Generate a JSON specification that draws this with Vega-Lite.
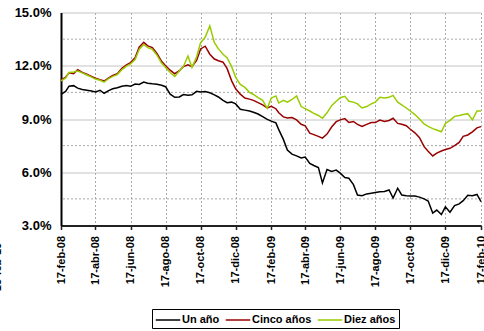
{
  "$schema": "https://vega.github.io/schema/vega-lite/v6.json",
  "width": 420,
  "height": 213,
  "autosize": {"type": "none"},
  "padding": {"left": 61, "top": 12.5, "right": 3, "bottom": 105.5},
  "background": "white",
  "config": {
    "font": "Liberation Sans",
    "view": {"stroke": null},
    "axisY": {
      "labelFont": "Liberation Sans", "labelFontWeight": "bold", "labelFontSize": 13, "labelColor": "black",
      "labelPadding": 10, "ticks": false,
      "grid": true, "gridColor": "#c4c4c4", "gridWidth": 1,
      "domainColor": "black", "domainWidth": 2,
      "titleFont": "Liberation Sans", "titleFontWeight": "bold", "titleFontSize": 11, "titleColor": "black"
    }
  },
  "layer": [
    {
      "data": {"values": [{"g": 4.5}, {"g": 7.5}, {"g": 10.5}, {"g": 13.5}]},
      "mark": {"type": "rule", "color": "#a8a8a8", "strokeDash": [2, 2], "strokeWidth": 1},
      "encoding": {
        "y": {
          "field": "g", "type": "quantitative", "scale": {"domain": [3, 15], "nice": false, "zero": false},
          "axis": {
            "values": [3, 6, 9, 12, 15],
            "labelExpr": "format(datum.value, '.1f') + '%'",
            "title": "15-feb-10", "titleAngle": 270, "titleX": -61, "titleY": 254,
            "titleAlign": "center", "titleBaseline": "alphabetic"
          }
        }
      }
    },
    {
      "data": {"values": [
        {"fecha": "2008-02-17", "Un año": 10.39, "Cinco años": 11.20, "Diez años": 11.15},
        {"fecha": "2008-02-25", "Un año": 10.55, "Cinco años": 11.35, "Diez años": 11.30},
        {"fecha": "2008-03-02", "Un año": 10.85, "Cinco años": 11.60, "Diez años": 11.62},
        {"fecha": "2008-03-10", "Un año": 10.88, "Cinco años": 11.55, "Diez años": 11.65},
        {"fecha": "2008-03-17", "Un año": 10.74, "Cinco años": 11.78, "Diez años": 11.70},
        {"fecha": "2008-03-25", "Un año": 10.66, "Cinco años": 11.62, "Diez años": 11.60},
        {"fecha": "2008-04-02", "Un año": 10.62, "Cinco años": 11.52, "Diez años": 11.48},
        {"fecha": "2008-04-10", "Un año": 10.58, "Cinco años": 11.40, "Diez años": 11.36},
        {"fecha": "2008-04-17", "Un año": 10.52, "Cinco años": 11.30, "Diez años": 11.25},
        {"fecha": "2008-04-25", "Un año": 10.62, "Cinco años": 11.22, "Diez años": 11.18},
        {"fecha": "2008-05-02", "Un año": 10.45, "Cinco años": 11.14, "Diez años": 11.08},
        {"fecha": "2008-05-10", "Un año": 10.60, "Cinco años": 11.32, "Diez años": 11.28},
        {"fecha": "2008-05-17", "Un año": 10.70, "Cinco años": 11.45, "Diez años": 11.40},
        {"fecha": "2008-05-25", "Un año": 10.76, "Cinco años": 11.55, "Diez años": 11.50},
        {"fecha": "2008-06-02", "Un año": 10.84, "Cinco años": 11.85, "Diez años": 11.78},
        {"fecha": "2008-06-10", "Un año": 10.88, "Cinco años": 12.05, "Diez años": 11.98},
        {"fecha": "2008-06-17", "Un año": 10.84, "Cinco años": 12.18, "Diez años": 12.10},
        {"fecha": "2008-06-25", "Un año": 10.97, "Cinco años": 12.45, "Diez años": 12.35},
        {"fecha": "2008-07-02", "Un año": 10.95, "Cinco años": 13.05, "Diez años": 12.92},
        {"fecha": "2008-07-10", "Un año": 11.08, "Cinco años": 13.32, "Diez años": 13.20},
        {"fecha": "2008-07-17", "Un año": 11.02, "Cinco años": 13.12, "Diez años": 13.02},
        {"fecha": "2008-07-25", "Un año": 10.98, "Cinco años": 13.02, "Diez años": 12.92},
        {"fecha": "2008-08-02", "Un año": 10.96, "Cinco años": 12.70, "Diez años": 12.60},
        {"fecha": "2008-08-10", "Un año": 10.90, "Cinco años": 12.25, "Diez años": 12.15},
        {"fecha": "2008-08-17", "Un año": 10.82, "Cinco años": 12.00, "Diez años": 11.90},
        {"fecha": "2008-08-25", "Un año": 10.40, "Cinco años": 11.75, "Diez años": 11.62},
        {"fecha": "2008-09-02", "Un año": 10.22, "Cinco años": 11.55, "Diez años": 11.40},
        {"fecha": "2008-09-10", "Un año": 10.24, "Cinco años": 11.72, "Diez años": 11.70},
        {"fecha": "2008-09-17", "Un año": 10.38, "Cinco años": 11.95, "Diez años": 11.95},
        {"fecha": "2008-09-25", "Un año": 10.34, "Cinco años": 12.05, "Diez años": 12.55},
        {"fecha": "2008-10-02", "Un año": 10.36, "Cinco años": 11.95, "Diez años": 11.90},
        {"fecha": "2008-10-10", "Un año": 10.56, "Cinco años": 12.30, "Diez años": 12.50},
        {"fecha": "2008-10-17", "Un año": 10.52, "Cinco años": 12.95, "Diez años": 13.30},
        {"fecha": "2008-10-25", "Un año": 10.55, "Cinco años": 13.10, "Diez años": 13.60},
        {"fecha": "2008-11-02", "Un año": 10.48, "Cinco años": 12.65, "Diez años": 14.25},
        {"fecha": "2008-11-10", "Un año": 10.36, "Cinco años": 12.38, "Diez años": 13.30},
        {"fecha": "2008-11-17", "Un año": 10.24, "Cinco años": 12.28, "Diez años": 12.95},
        {"fecha": "2008-11-25", "Un año": 10.05, "Cinco años": 12.20, "Diez años": 12.65},
        {"fecha": "2008-12-02", "Un año": 9.92, "Cinco años": 11.85, "Diez años": 12.45},
        {"fecha": "2008-12-10", "Un año": 9.95, "Cinco años": 11.15, "Diez años": 11.95},
        {"fecha": "2008-12-17", "Un año": 9.85, "Cinco años": 10.70, "Diez años": 11.35},
        {"fecha": "2008-12-25", "Un año": 9.55, "Cinco años": 10.40, "Diez años": 10.95},
        {"fecha": "2009-01-02", "Un año": 9.50, "Cinco años": 10.18, "Diez años": 10.78},
        {"fecha": "2009-01-10", "Un año": 9.45, "Cinco años": 10.12, "Diez años": 10.50},
        {"fecha": "2009-01-17", "Un año": 9.38, "Cinco años": 10.05, "Diez años": 10.38},
        {"fecha": "2009-01-25", "Un año": 9.28, "Cinco años": 9.92, "Diez años": 10.20},
        {"fecha": "2009-02-02", "Un año": 9.13, "Cinco años": 9.80, "Diez años": 10.05},
        {"fecha": "2009-02-10", "Un año": 8.98, "Cinco años": 9.62, "Diez años": 9.60},
        {"fecha": "2009-02-17", "Un año": 8.88, "Cinco años": 9.72, "Diez años": 10.18},
        {"fecha": "2009-02-25", "Un año": 8.78, "Cinco años": 9.58, "Diez años": 10.30},
        {"fecha": "2009-03-02", "Un año": 8.40, "Cinco años": 9.35, "Diez años": 9.90},
        {"fecha": "2009-03-10", "Un año": 7.85, "Cinco años": 9.12, "Diez años": 10.05},
        {"fecha": "2009-03-17", "Un año": 7.25, "Cinco años": 9.06, "Diez años": 9.95},
        {"fecha": "2009-03-25", "Un año": 7.02, "Cinco años": 9.08, "Diez años": 10.10},
        {"fecha": "2009-04-02", "Un año": 6.92, "Cinco años": 8.95, "Diez años": 10.30},
        {"fecha": "2009-04-10", "Un año": 6.80, "Cinco años": 8.70, "Diez años": 9.70},
        {"fecha": "2009-04-17", "Un año": 6.86, "Cinco años": 8.62, "Diez años": 9.58},
        {"fecha": "2009-04-25", "Un año": 6.50, "Cinco años": 8.20, "Diez años": 9.45},
        {"fecha": "2009-05-02", "Un año": 6.38, "Cinco años": 8.12, "Diez años": 9.32},
        {"fecha": "2009-05-10", "Un año": 6.26, "Cinco años": 8.02, "Diez años": 9.20},
        {"fecha": "2009-05-17", "Un año": 5.40, "Cinco años": 7.92, "Diez años": 9.04},
        {"fecha": "2009-05-25", "Un año": 6.15, "Cinco años": 8.15, "Diez años": 9.35},
        {"fecha": "2009-06-02", "Un año": 6.05, "Cinco años": 8.55, "Diez años": 9.75},
        {"fecha": "2009-06-10", "Un año": 6.12, "Cinco años": 8.85, "Diez años": 10.00},
        {"fecha": "2009-06-17", "Un año": 5.95, "Cinco años": 8.95, "Diez años": 10.20},
        {"fecha": "2009-06-25", "Un año": 5.70, "Cinco años": 9.02, "Diez años": 10.28},
        {"fecha": "2009-07-02", "Un año": 5.66, "Cinco años": 8.80, "Diez años": 10.00},
        {"fecha": "2009-07-10", "Un año": 5.30, "Cinco años": 8.86, "Diez años": 9.95},
        {"fecha": "2009-07-17", "Un año": 4.72, "Cinco años": 8.70, "Diez años": 9.85},
        {"fecha": "2009-07-25", "Un año": 4.68, "Cinco años": 8.58, "Diez años": 9.62},
        {"fecha": "2009-08-02", "Un año": 4.78, "Cinco años": 8.70, "Diez años": 9.70},
        {"fecha": "2009-08-10", "Un año": 4.82, "Cinco años": 8.80, "Diez años": 9.85},
        {"fecha": "2009-08-17", "Un año": 4.86, "Cinco años": 8.80, "Diez años": 9.95},
        {"fecha": "2009-08-25", "Un año": 4.90, "Cinco años": 8.94, "Diez años": 10.22},
        {"fecha": "2009-09-02", "Un año": 4.92, "Cinco años": 8.86, "Diez años": 10.18},
        {"fecha": "2009-09-10", "Un año": 5.00, "Cinco años": 8.92, "Diez años": 10.22},
        {"fecha": "2009-09-17", "Un año": 4.55, "Cinco años": 9.04, "Diez años": 10.33},
        {"fecha": "2009-09-25", "Un año": 5.10, "Cinco años": 8.75, "Diez años": 9.95},
        {"fecha": "2009-10-02", "Un año": 4.72, "Cinco años": 8.70, "Diez años": 9.80},
        {"fecha": "2009-10-10", "Un año": 4.68, "Cinco años": 8.62, "Diez años": 9.62},
        {"fecha": "2009-10-17", "Un año": 4.66, "Cinco años": 8.42, "Diez años": 9.45},
        {"fecha": "2009-10-25", "Un año": 4.66, "Cinco años": 8.22, "Diez años": 9.25},
        {"fecha": "2009-11-02", "Un año": 4.60, "Cinco años": 7.95, "Diez años": 9.00},
        {"fecha": "2009-11-10", "Un año": 4.50, "Cinco años": 7.44, "Diez años": 8.72},
        {"fecha": "2009-11-17", "Un año": 4.38, "Cinco años": 7.18, "Diez años": 8.58},
        {"fecha": "2009-11-25", "Un año": 3.70, "Cinco años": 6.92, "Diez años": 8.46},
        {"fecha": "2009-12-02", "Un año": 3.87, "Cinco años": 7.08, "Diez años": 8.38},
        {"fecha": "2009-12-10", "Un año": 3.62, "Cinco años": 7.20, "Diez años": 8.28},
        {"fecha": "2009-12-17", "Un año": 4.05, "Cinco años": 7.28, "Diez años": 8.75},
        {"fecha": "2009-12-25", "Un año": 3.75, "Cinco años": 7.35, "Diez años": 8.92},
        {"fecha": "2010-01-02", "Un año": 4.12, "Cinco años": 7.50, "Diez años": 9.15},
        {"fecha": "2010-01-10", "Un año": 4.22, "Cinco años": 7.68, "Diez años": 9.20},
        {"fecha": "2010-01-17", "Un año": 4.40, "Cinco años": 8.02, "Diez años": 9.25},
        {"fecha": "2010-01-25", "Un año": 4.70, "Cinco años": 8.10, "Diez años": 9.30},
        {"fecha": "2010-02-02", "Un año": 4.68, "Cinco años": 8.28, "Diez años": 8.95},
        {"fecha": "2010-02-10", "Un año": 4.75, "Cinco años": 8.50, "Diez años": 9.45},
        {"fecha": "2010-02-17", "Un año": 4.35, "Cinco años": 8.57, "Diez años": 9.45}
      ]},
      "transform": [{"fold": ["Un año", "Cinco años", "Diez años"], "as": ["serie", "valor"]}],
      "mark": {"type": "line", "strokeWidth": 1.5},
      "encoding": {
        "x": {
          "field": "fecha", "type": "temporal",
          "scale": {"type": "utc", "nice": false, "domain": [{"year": 2008, "month": 2, "date": 17, "utc": true}, {"year": 2010, "month": 2, "date": 17, "utc": true}]},
          "axis": {
            "title": null,
            "values": [
              {"year": 2008, "month": 2, "date": 17, "utc": true},
              {"year": 2008, "month": 4, "date": 17, "utc": true},
              {"year": 2008, "month": 6, "date": 17, "utc": true},
              {"year": 2008, "month": 8, "date": 17, "utc": true},
              {"year": 2008, "month": 10, "date": 17, "utc": true},
              {"year": 2008, "month": 12, "date": 17, "utc": true},
              {"year": 2009, "month": 2, "date": 17, "utc": true},
              {"year": 2009, "month": 4, "date": 17, "utc": true},
              {"year": 2009, "month": 6, "date": 17, "utc": true},
              {"year": 2009, "month": 8, "date": 17, "utc": true},
              {"year": 2009, "month": 10, "date": 17, "utc": true},
              {"year": 2009, "month": 12, "date": 17, "utc": true},
              {"year": 2010, "month": 2, "date": 17, "utc": true}
            ],
            "labelExpr": "'17-' + ['ene','feb','mar','abr','may','jun','jul','ago','sep','oct','nov','dic'][utcmonth(datum.value)] + '-' + utcFormat(datum.value, '%y')",
            "labelAngle": -90, "labelAlign": "right", "labelBaseline": "middle",
            "labelFont": "Liberation Sans", "labelFontWeight": "bold", "labelFontSize": 11, "labelColor": "black",
            "labelPadding": 6, "labelOverlap": false, "labelFlush": false,
            "grid": true, "gridColor": "#a8a8a8", "gridDash": [2, 2], "gridWidth": 1,
            "domainColor": "#222222", "domainWidth": 2, "tickColor": "#222222", "tickSize": 4, "tickWidth": 1.5
          }
        },
        "y": {
          "field": "valor", "type": "quantitative",
          "scale": {"domain": [3, 15], "nice": false, "zero": false},
          "axis": {
            "values": [3, 6, 9, 12, 15],
            "labelExpr": "format(datum.value, '.1f') + '%'",
            "title": "15-feb-10", "titleAngle": 270, "titleX": -61, "titleY": 254,
            "titleAlign": "center", "titleBaseline": "alphabetic"
          }
        },
        "color": {
          "field": "serie", "type": "nominal",
          "scale": {"domain": ["Un año", "Cinco años", "Diez años"], "range": ["#000000", "#990000", "#99cc00"]},
          "legend": {
            "orient": "none", "legendX": 91, "legendY": 296.5, "direction": "horizontal", "title": null,
            "symbolType": "M-1.75,0H1.75", "symbolSize": 196, "symbolStrokeWidth": 1.5, "symbolOffset": 5,
            "labelFont": "Liberation Sans", "labelFontWeight": "bold", "labelFontSize": 11, "labelColor": "black",
            "labelOffset": 6, "columnPadding": 2, "padding": 3,
            "strokeColor": "black", "fillColor": "white"
          }
        }
      }
    }
  ]
}
